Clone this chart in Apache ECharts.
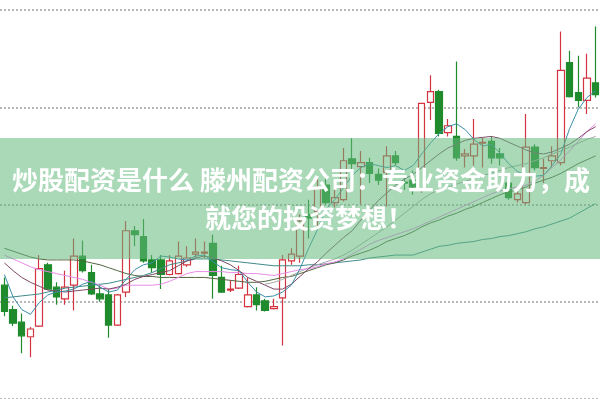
<!DOCTYPE html>
<html><head><meta charset="utf-8">
<script src="https://cdn.jsdelivr.net/npm/echarts@6/dist/echarts.min.js"></script>
<style>html,body{margin:0;padding:0;background:#fff}#c{width:600px;height:399px}</style>
</head><body><div id="c"></div>
<script>
const categories = Array.from({length:69},(_,i)=>String(i+1));
const opens  = [9.17,8.92,8.79,8.64,8.75,9.38,9.15,9.03,9.17,9.47,9.30,9.08,9.07,8.76,9.10,9.73,9.67,9.43,9.43,9.28,9.29,9.38,9.49,9.50,9.60,9.25,9.12,9.14,8.95,9.07,9.01,8.93,9.04,9.42,9.47,9.90,9.93,10.20,10.02,10.05,10.47,10.39,10.43,10.31,10.33,10.50,10.23,10.25,10.15,11.05,11.16,10.74,10.70,10.50,10.50,10.63,10.65,10.52,10.22,10.05,10.02,10.59,10.37,10.45,10.43,11.46,11.15,11.07,11.25];
const closes = [8.90,8.78,8.65,8.72,9.34,9.13,9.05,9.15,9.47,9.32,9.08,9.03,8.76,9.07,9.73,9.69,9.42,9.35,9.28,9.42,9.47,9.45,9.51,9.51,9.27,9.10,9.13,9.28,9.07,8.97,8.91,8.95,9.43,9.49,9.83,9.86,10.17,10.02,10.07,10.45,10.42,10.43,10.32,10.25,10.50,10.43,10.22,10.18,11.04,11.16,10.73,10.81,10.48,10.52,10.62,10.64,10.48,10.48,10.07,10.11,10.59,10.38,10.38,10.50,11.38,11.11,11.07,11.30,11.13];
const lows   = [8.85,8.75,8.47,8.43,8.74,9.12,8.97,8.97,8.91,9.30,9.07,9.00,8.63,8.75,9.05,9.57,9.40,9.30,9.13,9.27,9.28,9.36,9.45,9.45,9.03,9.09,9.10,9.13,8.94,8.91,8.90,8.92,8.55,9.38,9.40,9.65,9.78,10.00,9.97,10.03,10.35,10.00,10.22,10.20,9.98,10.40,10.15,10.10,10.12,10.87,10.70,10.70,10.45,10.38,10.40,10.38,10.42,10.40,10.05,10.02,10.00,10.35,10.22,10.38,10.40,11.10,11.00,10.93,11.10];
const highs  = [9.25,8.96,8.88,8.74,9.48,9.40,9.20,9.32,9.65,9.63,9.38,9.18,9.13,9.08,9.83,9.78,9.85,9.48,9.48,9.48,9.62,9.57,9.65,9.62,9.69,9.37,9.22,9.37,9.25,9.15,9.03,9.03,9.48,9.55,9.90,10.05,10.27,10.27,10.23,10.58,10.68,10.55,10.48,10.37,10.60,10.55,10.28,10.35,11.04,11.33,11.18,10.88,11.47,10.57,10.88,10.69,10.70,10.58,10.30,10.17,10.93,10.62,10.47,10.60,11.78,11.58,11.53,11.55,11.83];
const ma5  = [9.28,9.05,8.92,8.87,8.99,9.07,9.10,9.11,9.13,9.18,9.21,9.15,9.10,9.12,9.23,9.33,9.38,9.40,9.47,9.46,9.44,9.43,9.47,9.48,9.41,9.35,9.33,9.32,9.20,9.10,9.05,9.06,9.10,9.17,9.34,9.55,9.74,9.95,10.05,10.17,10.30,10.38,10.42,10.40,10.38,10.40,10.35,10.40,10.52,10.63,10.73,10.80,10.83,10.77,10.67,10.60,10.62,10.53,10.42,10.34,10.30,10.29,10.30,10.40,10.52,10.78,10.98,11.10,11.17];
const ma10 = [9.40,9.32,9.25,9.20,9.16,9.12,9.11,9.10,9.11,9.12,9.13,9.14,9.13,9.15,9.18,9.23,9.26,9.28,9.30,9.32,9.37,9.42,9.45,9.47,9.45,9.42,9.38,9.32,9.25,9.21,9.17,9.13,9.13,9.18,9.26,9.34,9.41,9.50,9.58,9.66,9.73,9.84,9.94,10.04,10.12,10.20,10.26,10.31,10.38,10.45,10.52,10.58,10.62,10.66,10.68,10.69,10.70,10.68,10.64,10.60,10.56,10.53,10.52,10.54,10.58,10.62,10.68,10.75,10.80];
const ma20 = [9.48,9.44,9.40,9.36,9.33,9.31,9.29,9.27,9.25,9.23,9.20,9.17,9.13,9.14,9.17,9.17,9.17,9.17,9.18,9.21,9.25,9.29,9.31,9.31,9.31,9.31,9.30,9.30,9.29,9.29,9.28,9.27,9.29,9.31,9.33,9.34,9.36,9.39,9.41,9.44,9.49,9.54,9.59,9.63,9.66,9.69,9.72,9.75,9.79,9.83,9.87,9.91,9.95,9.99,10.03,10.07,10.11,10.14,10.16,10.18,10.20,10.24,10.30,10.38,10.46,10.55,10.65,10.75,10.83];
const ma30 = [9.55,9.52,9.49,9.46,9.44,9.43,9.43,9.43,9.43,9.42,9.40,9.38,9.35,9.32,9.29,9.27,9.26,9.26,9.25,9.25,9.25,9.25,9.25,9.25,9.24,9.23,9.22,9.21,9.20,9.20,9.21,9.23,9.25,9.26,9.29,9.32,9.35,9.38,9.40,9.43,9.47,9.50,9.53,9.57,9.62,9.65,9.68,9.72,9.77,9.81,9.84,9.88,9.91,9.95,9.98,10.02,10.06,10.10,10.13,10.15,10.18,10.22,10.25,10.28,10.32,10.37,10.42,10.46,10.50];
const maGray = [null,null,null,null,null,null,null,null,null,null,null,null,null,null,null,null,null,null,null,null,null,null,null,null,null,null,null,null,null,null,9.18,9.20,9.23,9.27,9.31,9.35,9.38,9.41,9.44,9.48,9.53,9.59,9.65,9.71,9.77,9.84,9.91,9.98,10.05,10.11,10.15,10.18,10.21,10.24,10.27,10.30,10.32,10.35,10.38,10.40,10.42,10.45,10.48,10.52,10.55,10.59,10.63,10.67,10.70];
const ma60 = [9.04,9.05,9.06,9.07,9.08,9.10,9.12,9.14,9.15,9.16,9.17,9.18,9.19,9.21,9.23,9.25,9.27,9.30,9.34,9.38,9.40,9.42,9.44,9.44,9.44,9.43,9.42,9.41,9.40,9.39,9.38,9.37,9.37,9.37,9.37,9.38,9.38,9.39,9.40,9.41,9.42,9.43,9.45,9.46,9.47,9.48,9.48,9.48,9.51,9.54,9.57,9.58,9.60,9.61,9.62,9.64,9.65,9.67,9.68,9.70,9.72,9.75,9.77,9.80,9.83,9.86,9.91,9.96,10.01];

const candleData = opens.map((o,i)=>[o, closes[i], lows[i], highs[i]]);
const chart = echarts.init(document.getElementById('c'), null, {renderer:'canvas'});
function ma(name, data, color){
  return {name, type:'line', data, symbol:'none', smooth:false, connectNulls:false,
    lineStyle:{color, width:1}, z:3, silent:true};
}
chart.setOption({
  animation:false,
  backgroundColor:'#fff',
  grid:{left:-4, right:0, top:10, height:400},
  xAxis:{type:'category', data:categories, boundaryGap:true, axisLine:{show:false}, axisTick:{show:false}, axisLabel:{show:false}, splitLine:{show:false}},
  yAxis:{type:'value', min:8, max:12, interval:1, axisLine:{show:false}, axisTick:{show:false}, axisLabel:{show:false},
    splitLine:{show:true, lineStyle:{color:'#a0a0a0', type:[2,2], width:1.5}}},
  series:[
    {type:'candlestick', data:candleData, barWidth:7, z:2,
      itemStyle:{color:'#ffffff', color0:'#1f8b2c', borderColor:'#d3343f', borderColor0:'#1f8b2c', borderWidth:1.2}},
    ma('ma60', ma60, '#3f8a8c'),
    ma('ma30', ma30, '#52663f'),
    ma('maGray', maGray, '#a8a8a8'),
    ma('ma20', ma20, '#e98be9'),
    ma('ma10', ma10, '#7e4a66'),
    ma('ma5', ma5, '#3a8ea8')
  ],
  graphic:[
    {type:'rect', shape:{x:0, y:138, width:600, height:121}, style:{fill:'rgba(100,185,125,0.55)'}, z:100},
    {type:'text', x:12, y:180, style:{text:'炒股配资是什么 滕州配资公司：专业资金助力，成', fill:'#ffffff', font:'bold 26px "Noto Sans CJK SC"', textVerticalAlign:'middle', verticalAlign:'middle'}, z:101},
    {type:'text', x:205, y:218, style:{text:'就您的投资梦想！', fill:'#ffffff', font:'bold 26px "Noto Sans CJK SC"', textVerticalAlign:'middle', verticalAlign:'middle'}, z:101}
  ]
});
</script></body></html>
